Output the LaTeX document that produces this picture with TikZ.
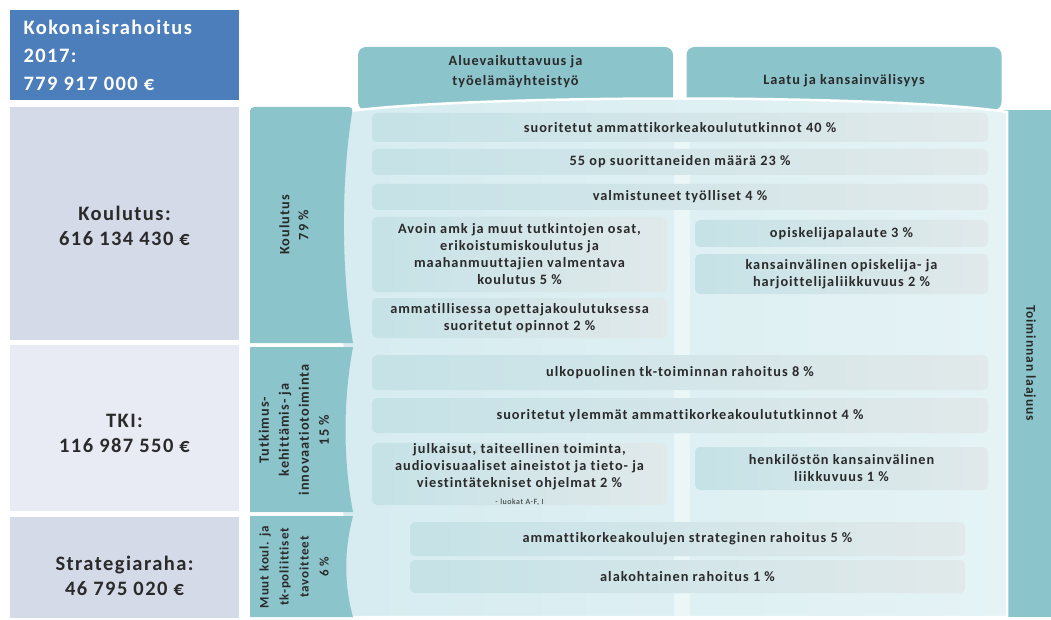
\documentclass[tikz,border=0pt]{standalone}
\usepackage{fontspec}
\setmainfont{Carlito}[LetterSpace=7,Ligatures=NoCommon]
\usetikzlibrary{positioning}
\definecolor{FundBlue}{RGB}{76,126,187}
\definecolor{FundLav}{RGB}{212,218,231}
\definecolor{FundLavSoft}{RGB}{232,235,243}
\definecolor{FundTeal}{RGB}{139,196,203}
\definecolor{FundPanelL}{RGB}{214,236,240}
\definecolor{FundPanelR}{RGB}{229,243,245}
\definecolor{FundRowL}{RGB}{197,226,231}
\definecolor{FundRowR}{RGB}{225,233,234}
\definecolor{FundInk}{RGB}{42,42,42}
\tikzset{
  fund box/.style={
    rounded corners=5pt,
    align=center,
    inner sep=0pt,
    text=FundInk,
    font=\bfseries\fontsize{14.3}{17}\selectfont
  },
  fund row/.style={fund box, left color=FundRowL, right color=FundRowR},
  fund head/.style={fund box, fill=FundTeal, rounded corners=8pt, minimum width=315pt, minimum height=63pt},
  fund bar/.style={fill=FundTeal},
  fund bar text/.style={align=center, text=FundInk, font=\bfseries\fontsize{14.3}{19}\selectfont},
  fund side text/.style={align=center, text=FundInk, font=\bfseries\fontsize{20.5}{25}\selectfont},
  fund panel/.style={left color=FundPanelL, right color=FundPanelR, draw=white, line width=2.5pt}
}

\begin{document}
\begin{tikzpicture}[x=1pt,y=-1pt]
\useasboundingbox (0,0) rectangle (1051,620);
\fill[FundBlue] (10,10) rectangle (239,100);
\fill[FundLav] (10,107) rectangle (239,340);
\fill[FundLavSoft] (10,345) rectangle (239,511);
\fill[FundLav] (10,517) rectangle (239,618);
\node[anchor=west, align=left, text=white, font=\bfseries\fontsize{20.5}{28}\selectfont] (total) at (20,55.5) {Kokonaisrahoitus\\2017:\\779 917 000 €};
\node[fund side text] (koulSum) at (124.5,225.5) {Koulutus:\\616 134 430 €};
\node[fund side text] (tkiSum) at (124.5,433.5) {TKI:\\116 987 550 €};
\node[fund side text] (stratSum) at (124.5,575.5) {Strategiaraha:\\46 795 020 €};

\node[fund head] (headAlue) at (515.5,78.5) {};
\node[fund head] (headLaatu) at (844,78.5) {};
\node[fund bar text, font=\bfseries\fontsize{14.3}{20}\selectfont] (headAlueT) at (515.5,72) {Aluevaikuttavuus ja\\työelämäyhteistyö};
\node[fund bar text] (headLaatuT) at (844,81) {Laatu ja kansainvälisyys};
\fill[fund bar] (1000,110) rectangle (1051,617);
\path[fund panel] (342,112) .. controls (470,94) and (890,94) .. (1007,112) -- (1007,617) -- (342,617) -- cycle;
\fill[white, opacity=0.4] (674,114) rectangle (690,616);

\fill[fund bar] (250,343) -- (250,111) [rounded corners=4pt] -- (250,107) -- (353,107) [sharp corners] .. controls (341,180) and (341,270) .. (353,343) -- cycle;
\fill[fund bar] (250,512) -- (250,347) -- (353,347) .. controls (343,400) and (343,460) .. (353,512) -- cycle;
\fill[fund bar] (250,617) -- (250,516) -- (353,516) .. controls (344,550) and (344,585) .. (353,617) -- cycle;
\node[fund bar text, rotate=90] (koulBar) at (294,225) {Koulutus\\79 \%};
\node[fund bar text, rotate=90, font=\bfseries\fontsize{14.3}{20}\selectfont] (tkiBar) at (294,430) {Tutkimus-\\kehittämis- ja\\innovaatiotoiminta\\15 \%};
\node[fund bar text, rotate=90, font=\bfseries\fontsize{13}{20}\selectfont] (stratBar) at (294,567) {Muut koul. ja\\tk-poliittiset\\tavoitteet\\6 \%};
\node[fund bar text, rotate=-90, font=\bfseries\fontsize{13.5}{17}\selectfont] (laajuus) at (1030,363) {Toiminnan laajuus};

\node[fund row, minimum width=616pt, minimum height=29pt] (tutk) at (680,127.5) {suoritetut ammattikorkeakoulututkinnot 40 \%};
\node[fund row, minimum width=616pt, minimum height=26pt] (op55) at (680,162) {55 op suorittaneiden määrä 23 \%};
\node[fund row, minimum width=616pt, minimum height=26pt] (tyol) at (680,197) {valmistuneet työlliset 4 \%};
\node[fund row, minimum width=295pt, minimum height=75pt] (avoin) at (519.5,254.5) {Avoin amk ja muut tutkintojen osat,\\erikoistumiskoulutus ja\\maahanmuuttajien valmentava\\koulutus 5 \%};
\node[fund row, minimum width=295pt, minimum height=40pt] (opett) at (519.5,318) {ammatillisessa opettajakoulutuksessa\\suoritetut opinnot 2 \%};
\node[fund row, minimum width=293pt, minimum height=27pt] (palaute) at (841.5,233.5) {opiskelijapalaute 3 \%};
\node[fund row, minimum width=293pt, minimum height=40pt] (liikk) at (841.5,274) {kansainvälinen opiskelija- ja\\harjoittelijaliikkuvuus 2 \%};
\node[fund row, minimum width=616pt, minimum height=35pt] (ulko) at (680,372.5) {ulkopuolinen tk-toiminnan rahoitus 8 \%};
\node[fund row, minimum width=616pt, minimum height=35pt] (ylem) at (680,415.5) {suoritetut ylemmät ammattikorkeakoulututkinnot 4 \%};
\node[fund row, minimum width=295pt, minimum height=62pt] (julk) at (519.5,474) {julkaisut, taiteellinen toiminta,\\audiovisuaaliset aineistot ja tieto- ja\\viestintätekniset ohjelmat 2 \%\\{\mdseries\fontsize{8}{9}\selectfont - luokat A-F, I}};
\node[fund row, minimum width=293pt, minimum height=43pt] (henk) at (841.5,468.5) {henkilöstön kansainvälinen\\liikkuvuus 1 \%};
\node[fund row, minimum width=555pt, minimum height=34pt] (strat) at (687.5,539) {ammattikorkeakoulujen strateginen rahoitus 5 \%};
\node[fund row, minimum width=555pt, minimum height=33pt] (ala) at (687.5,576.5) {alakohtainen rahoitus 1 \%};
\end{tikzpicture}
\end{document}
